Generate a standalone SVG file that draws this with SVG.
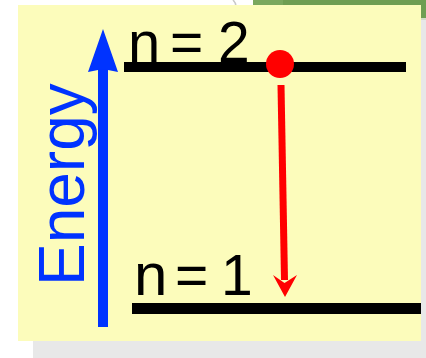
<svg xmlns="http://www.w3.org/2000/svg" width="426" height="358" viewBox="0 0 426 358">
<style>
.lbl{font-family:"Liberation Sans",Arial,sans-serif;font-size:57px;fill:#000}
.energy{font-family:"Liberation Sans",Arial,sans-serif;font-size:64px;fill:#0033ff}
.level{fill:#000}
</style>
<g id="background">
<rect x="0" y="0" width="426" height="358" fill="#ffffff"/>
<rect x="253" y="0" width="173" height="19" fill="#6e9e52"/>
<rect x="253" y="0" width="30" height="6" fill="#7aa85e"/>
<path d="M233,0 Q236,3 236,6" fill="none" stroke="#c8c8c8" stroke-width="1.5"/>
<rect x="421" y="19" width="5" height="339" fill="#e8e8e8"/>
<rect x="421" y="18" width="5" height="2" fill="#d0dcc8"/>
<rect x="33" y="341" width="393" height="17" fill="#e8e8e8"/>
<rect x="18" y="5" width="403" height="336" fill="#fcfcbb"/>
</g>
<g id="level-n2">
<rect class="level" x="124" y="62" width="282" height="10"/>
<text class="lbl" y="62"><tspan x="128" font-size="58">n</tspan><tspan x="170">=</tspan><tspan x="218">2</tspan></text>
</g>
<g id="level-n1">
<rect class="level" x="132" y="303" width="289" height="11"/>
<text class="lbl" y="295"><tspan x="134" font-size="60">n</tspan><tspan x="175">=</tspan><tspan x="221">1</tspan></text>
</g>
<g id="energy-axis">
<rect x="98" y="68" width="10" height="259" fill="#0033ff"/>
<polygon points="103,29 118,72 103,69 88,72" fill="#0033ff"/>
<text class="energy" transform="translate(84,286) rotate(-90)">Energy</text>
</g>
<g id="electron">
<circle cx="280" cy="64" r="14" fill="#ff0000"/>
</g>
<g id="connectors">
<line x1="281" y1="85" x2="284.5" y2="280" stroke="#ff0000" stroke-width="7"/>
<polygon points="285,297 273,275 284.5,283 297,275" fill="#ff0000"/>
</g>
</svg>
